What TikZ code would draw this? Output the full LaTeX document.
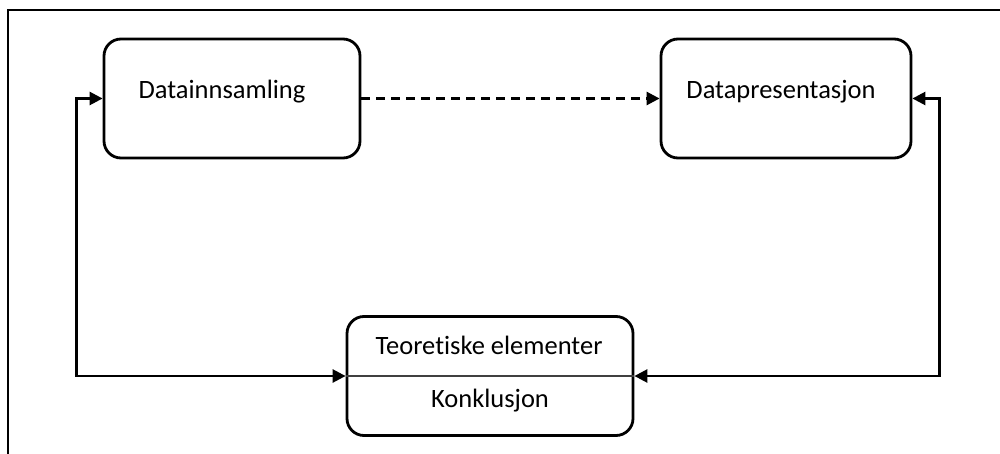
\documentclass[tikz,border=0pt]{standalone}
\usepackage{fontspec}
\setmainfont{Carlito}[Ligatures=NoCommon]
\usetikzlibrary{arrows.meta}
\tikzset{
    stagebox/.style={
        draw,
        line width=2.8pt,
        rounded corners=17pt,
        minimum width=#1,
        minimum height=119pt,
        inner sep=0pt
    },
    % piler med trekantspiss
    feedarrow/.style={
        line width=2.6pt,
        black,
        {Triangle[length=13pt, width=13pt]}-{Triangle[length=13pt, width=13pt]}
    },
    flowarrow/.style={
        line width=2.6pt,
        black,
        dash pattern=on 9pt off 6pt,
        -{Triangle[length=13pt, width=13pt]}
    },
    stagetext/.style={
        font=\fontsize{26.5}{31}\selectfont,
        anchor=base
    }
}

\begin{document}
\begin{tikzpicture}[x=1pt,y=-1pt]
   \useasboundingbox (0,0) rectangle (1000,454);
   \draw[line width=2.4pt] (8,454) -- (8,10) -- (1000,10);

    % bokser
    \node[stagebox=256pt] (samling) at (232,98.5) {};
    \node[stagebox=250pt] (presentasjon) at (786,98.5) {};
    \node[stagebox=286pt] (teori) at (490,376) {};
    \draw[line width=1.4pt, black!75] (teori.west) -- (teori.east);

    % tekster
    \node[stagetext] (samlingtxt) at (222,99) {Datainnsamling};
    \node[stagetext] (presentasjontxt) at (781,99) {Datapresentasjon};
    \node[stagetext] (teoritxt) at (489,354) {Teoretiske elementer};
    \node[stagetext] (konklusjontxt) at (490,407) {Konklusjon};

    % piler
    \draw[flowarrow] (samling.east) -- (presentasjon.west);
    \draw[feedarrow] (samling.west) -- ++(-26,0) |- (teori.west);
    \draw[feedarrow] (presentasjon.east) -- ++(27,0) |- (teori.east);

\end{tikzpicture}
\end{document}
